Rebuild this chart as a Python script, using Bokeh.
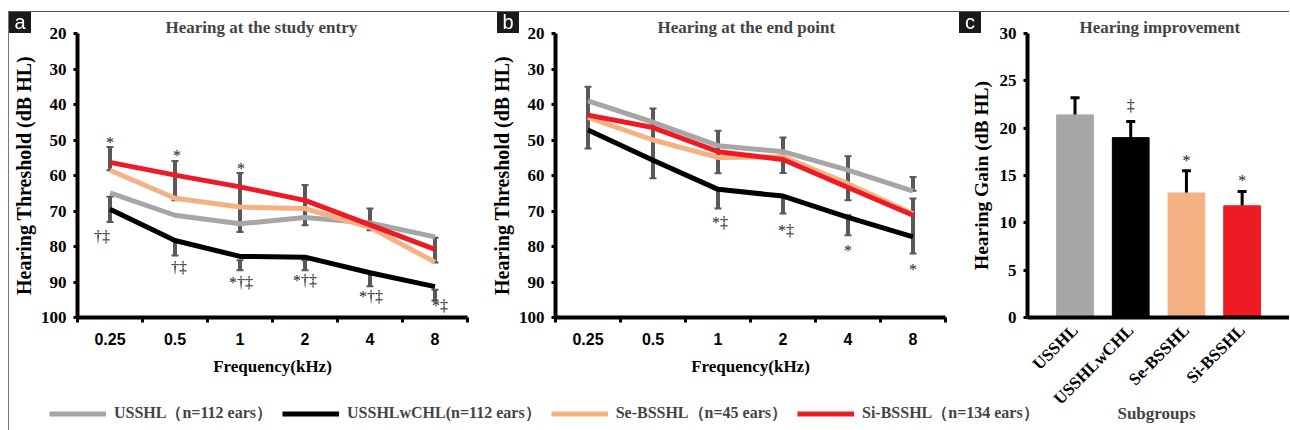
import math
from bokeh.plotting import figure
from bokeh.models import (Range1d, FixedTicker, ColumnDataSource, Whisker, TeeHead,
                          Label, Legend, LegendItem, Div)
from bokeh.layouts import row, column
from bokeh.embed import file_html
from bokeh.resources import INLINE
from bokeh.core.properties import value

# ---------------- data ----------------
freqs = ["0.25", "0.5", "1", "2", "4", "8"]
series = ["USSHL", "USSHLwCHL", "Se-BSSHL", "Si-BSSHL"]
legend_labels = ["USSHL（n=112 ears）", "USSHLwCHL(n=112 ears）",
                 "Se-BSSHL（n=45 ears）", "Si-BSSHL（n=134 ears）"]
colors = ["#a6a6a6", "#000000", "#f4b183", "#ed1c24"]

# Hearing threshold at study entry (dB HL)
entry_usshl = [64.9, 71.2, 73.6, 71.8, 73.4, 77.3]
entry_wchl = [69.5, 78.3, 82.8, 83.0, 87.4, 91.3]
entry_se = [58.5, 66.4, 68.9, 69.3, 74.6, 84.4]
entry_si = [56.3, 59.9, 63.2, 67.0, 73.9, 80.8]

# Hearing threshold at end point (dB HL)
end_usshl = [39.0, 45.0, 51.6, 53.3, 58.5, 64.4]
end_wchl = [47.2, 55.7, 63.9, 65.8, 71.8, 77.3]
end_se = [43.6, 50.0, 54.9, 54.7, 62.3, 70.8]
end_si = [43.0, 46.5, 53.3, 55.5, 63.4, 71.2]

# error-bar segments visible in the audiograms (dB HL)
entry_err_freq = ["0.25", "0.25", "0.5", "0.5", "1", "1", "2", "2", "4", "4", "8", "8"]
entry_err_top = [52.0, 66.0, 55.9, 78.5, 59.3, 83.9, 62.7, 83.9, 69.3, 87.2, 77.5, 92.2]
entry_err_bottom = [58.5, 73.1, 67.0, 82.5, 75.9, 86.7, 74.0, 86.7, 75.4, 91.2, 84.5, 95.2]

end_err_freq = ["0.25", "0.5", "1", "1", "2", "2", "4", "4", "8", "8"]
end_err_top = [35.0, 41.1, 47.4, 64.0, 49.3, 66.0, 54.6, 71.2, 60.4, 66.5]
end_err_bottom = [52.4, 60.8, 59.4, 69.3, 59.3, 70.7, 67.0, 76.8, 64.3, 82.0]

# significance marks
entry_sig_freq = ["0.25", "0.5", "1", "0.25", "0.5", "1", "2", "4", "8"]
entry_sig_text = ["*", "*", "*", "†‡", "†‡", "*†‡", "*†‡", "*†‡", "*‡"]
entry_sig_db = [50.8, 54.3, 57.9, 77.1, 85.8, 90.0, 89.5, 94.2, 96.6]
entry_sig_dx = [0, 2, 1, -8, 4, 1, 0, 1, 5]

end_sig_freq = ["1", "2", "4", "8"]
end_sig_text = ["*‡", "*‡", "*", "*"]
end_sig_db = [73.1, 75.4, 81.1, 86.5]
end_sig_dx = [2, 3, 0, 0]

# Hearing gain (dB HL)
groups = ["USSHL", "USSHLwCHL", "Se-BSSHL", "Si-BSSHL"]
gain = [21.4, 19.0, 13.15, 11.8]
gain_err = [1.8, 1.7, 2.35, 1.5]
gain_sig_group = ["USSHLwCHL", "Se-BSSHL", "Si-BSSHL"]
gain_sig_text = ["‡", "*", "*"]
gain_sig_val = [22.4, 16.6, 14.5]

panel_letters = ["a", "b", "c"]

SERIF = "Liberation Serif"
SANS = "Liberation Sans"
H = 410          # figure height (bottom part overlaps the legend strip)
BOTTOM = 105     # bottom border -> frame spans canvas y 21..305
HAS_FRAME_ALIGN = "frame_align" in figure.properties()


def base_fig(**kw):
    p = figure(output_backend="svg", toolbar_location=None, **kw)
    if HAS_FRAME_ALIGN:
        p.frame_align = False
    return p


def style_axes(p, title_offset):
    p.grid.visible = False
    p.outline_line_color = None
    p.background_fill_color = "white"
    p.border_fill_color = "white"
    for ax in p.axis:
        ax.axis_line_width = 4
        ax.axis_line_color = "black"
        ax.major_tick_line_width = 3
        ax.major_tick_line_color = "black"
        ax.minor_tick_line_color = None
        ax.major_label_text_font = SERIF
        ax.major_label_text_font_style = "bold"
        ax.major_label_text_font_size = "17px"
        ax.major_label_text_color = "black"
        ax.axis_label_text_font = SERIF
        ax.axis_label_text_font_style = "bold"
        ax.axis_label_text_font_size = "17px"
        ax.axis_label_text_color = "black"
    p.yaxis.major_tick_in = 0
    p.yaxis.major_tick_out = 4
    p.yaxis.major_label_standoff = 7
    p.title.text_font = SERIF
    p.title.text_font_style = "bold"
    p.title.text_font_size = "17px"
    p.title.align = "left"
    p.title.offset = title_offset
    p.title.standoff = -7


def audiogram(title, curves, err_f, err_t, err_b, sig_f, sig_t, sig_v, sig_dx,
              width, left, right, title_offset):
    p = base_fig(width=width, height=H, x_range=Range1d(0.5, len(freqs) + 0.5),
                 y_range=Range1d(100, 20), min_border_left=left, min_border_right=right,
                 min_border_top=21, min_border_bottom=BOTTOM, title=title)
    pos = {f: i + 1 for i, f in enumerate(freqs)}
    xs = [pos[f] for f in freqs]
    ex = [pos[f] for f in err_f]
    p.segment(x0=ex, y0=err_t, x1=ex, y1=err_b, line_color="#595959", line_width=4)
    p.rect(x=ex, y=err_t, width=7, height=2, width_units="screen", height_units="screen",
           fill_color="#595959", line_color=None)
    p.rect(x=ex, y=err_b, width=7, height=2, width_units="screen", height_units="screen",
           fill_color="#595959", line_color=None)
    for ys, c in zip(curves, colors):
        p.line(xs, ys, line_color=c, line_width=5, line_join="round")
    src = ColumnDataSource(dict(x=[pos[f] for f in sig_f], y=sig_v, t=sig_t, dx=sig_dx))
    p.text(x="x", y="y", text="t", x_offset="dx", source=src, text_align="center",
           text_baseline="middle", text_font=value(SERIF), text_font_size="16px",
           text_color="#222222")
    style_axes(p, title_offset)
    p.xaxis.ticker = FixedTicker(ticks=xs, minor_ticks=[i + 0.5 for i in range(len(freqs) + 1)])
    p.xaxis.major_label_overrides = {pos[f]: f for f in freqs}
    p.xaxis.major_tick_line_color = None
    p.xaxis.minor_tick_line_color = "black"
    p.xaxis.minor_tick_line_width = 3
    p.xaxis.minor_tick_in = 0
    p.xaxis.minor_tick_out = 5
    p.xaxis.major_label_text_font = SANS
    p.xaxis.major_label_text_font_size = "16px"
    p.xaxis.major_label_standoff = 9
    p.xaxis.axis_label = "Frequency(kHz)"
    p.xaxis.axis_label_standoff = 9
    p.yaxis.ticker = FixedTicker(ticks=list(range(20, 101, 10)))
    p.yaxis.axis_label = "Hearing Threshold (dB HL)"
    p.yaxis.axis_label_text_font_size = "20px"
    p.yaxis.axis_label_standoff = 3
    return p


pa = audiogram("Hearing at the study entry",
               [entry_usshl, entry_wchl, entry_se, entry_si],
               entry_err_freq, entry_err_top, entry_err_bottom,
               entry_sig_freq, entry_sig_text, entry_sig_db, entry_sig_dx,
               471, 67, 13, 88)
pb = audiogram("Hearing at the end point",
               [end_usshl, end_wchl, end_se, end_si],
               end_err_freq, end_err_top, end_err_bottom,
               end_sig_freq, end_sig_text, end_sig_db, end_sig_dx,
               479, 75, 14, 102)

# ---- panel c ----
gx = list(range(1, len(groups) + 1))
gpos = {g: i + 1 for i, g in enumerate(groups)}
pc = base_fig(width=330, height=H, x_range=Range1d(0.147, 4.85), y_range=Range1d(0, 30),
              min_border_left=68, min_border_right=0, min_border_top=21,
              min_border_bottom=BOTTOM, title="Hearing improvement")
csrc = ColumnDataSource(dict(x=gx, top=gain, color=colors,
                             lower=[g - e for g, e in zip(gain, gain_err)],
                             upper=[g + e for g, e in zip(gain, gain_err)]))
pc.vbar(x="x", top="top", width=0.66, fill_color="color", line_color="color", source=csrc)
pc.add_layout(Whisker(base="x", lower="lower", upper="upper", source=csrc,
                      line_color="black", line_width=3,
                      upper_head=TeeHead(size=9, line_width=3, line_color="black"),
                      lower_head=TeeHead(size=9, line_width=3, line_color="black")))
pc.text(x=[gpos[g] for g in gain_sig_group], y=gain_sig_val, text=gain_sig_text,
        text_align="center", text_baseline="middle", text_font=value(SERIF),
        text_font_size="16px", text_color="#222222")
style_axes(pc, 52)
pc.xaxis.ticker = FixedTicker(ticks=gx)
pc.xaxis.major_label_overrides = {gpos[g]: g for g in groups}
pc.xaxis.major_tick_line_color = None
pc.xaxis.major_label_orientation = math.pi / 4
pc.xaxis.major_label_standoff = 4
pc.yaxis.ticker = FixedTicker(ticks=list(range(0, 31, 5)))
pc.yaxis.axis_label = "Hearing Gain (dB HL)"
pc.yaxis.axis_label_text_font_size = "19.5px"
pc.yaxis.axis_label_standoff = 5

# ---- legend strip (transparent, overlaps the empty bottom of the panels) ----
leg = base_fig(width=1273, height=26, x_range=Range1d(0, 1273), y_range=Range1d(0, 26),
               x_axis_type=None, y_axis_type=None, min_border=0,
               styles={"margin-top": "-22px"})
leg.grid.visible = False
leg.outline_line_color = None
leg.background_fill_alpha = 0
leg.border_fill_alpha = 0
fpos = list(range(1, len(freqs) + 1))
rs = [leg.line(x=fpos, y=ys, line_color=c, line_width=5)
      for ys, c in zip([entry_usshl, entry_wchl, entry_se, entry_si], colors)]
legend = Legend(items=[LegendItem(label=l, renderers=[r]) for l, r in zip(legend_labels, rs)],
                orientation="horizontal", location="center_left", margin=40, padding=0,
                spacing=10, glyph_width=57, label_standoff=8,
                label_text_font=SERIF, label_text_font_style="bold",
                label_text_font_size="16px", border_line_color=None,
                background_fill_alpha=0)
leg.add_layout(legend, "center")
leg.add_layout(Label(x=1147, y=13, text="Subgroups", text_align="center",
                     text_baseline="middle", text_font=SERIF,
                     text_font_style="bold", text_font_size="17px"))

# ---- panel letters (black boxes at the panels' top-left corners) ----
letter_left = [9, 497, 959]     # page pixels
spans = "".join(
    f'<span style="position:fixed;left:{x}px;top:12px;width:22px;height:21px;'
    f'background:#1a1a1a;color:#ffffff;font-family:\'Liberation Sans\',Arial,sans-serif;'
    f'font-size:20px;line-height:21px;text-align:center;z-index:50;">{t}</span>'
    for t, x in zip(panel_letters, letter_left))
letters = Div(text=spans, width=1, height=1, styles={"overflow": "visible"})

layout = column(row(pa, pb, pc), leg, letters,
                styles={"border-top": "1px solid #555555", "border-left": "1px solid #777777",
                        "margin-top": "11px", "margin-left": "8px"})

open("out.html", "w").write(file_html(layout, INLINE))
